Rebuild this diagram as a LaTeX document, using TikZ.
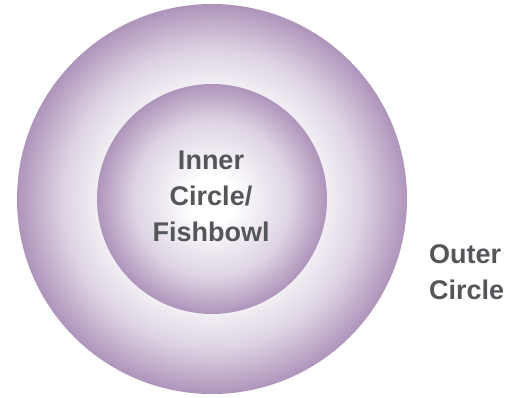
\documentclass[tikz,border=0pt]{standalone}
\usepackage{fontspec}
\setmainfont{Liberation Sans}
\definecolor{ringedge}{RGB}{174,148,186}
\definecolor{ringmid}{RGB}{222,212,228}
\definecolor{labelgray}{RGB}{84,86,90}
\pgfdeclareradialshading{fishbowl}{\pgfpoint{0bp}{0bp}}{color(0bp)=(white); color(5bp)=(white); color(17bp)=(ringmid); color(25bp)=(ringedge); color(50bp)=(ringedge)}
\pgfdeclareradialshading{outerring}{\pgfpoint{0bp}{0bp}}{color(0bp)=(white); color(12bp)=(white); color(19bp)=(ringmid); color(25bp)=(ringedge); color(50bp)=(ringedge)}
\tikzset{
  circlelabel/.style={text=labelgray, font=\bfseries\fontsize{27}{36}\selectfont, inner sep=0pt}
}
\begin{document}
\begin{tikzpicture}[x=1pt,y=-1pt]
\useasboundingbox (0,0) rectangle (527,398);

%Shape: Circle [outer]
\shade [shading=outerring] (212,199) circle (195);
%Shape: Circle [inner]
\shade [shading=fishbowl] (212,199) circle (115);

% Text Node
\node [circlelabel, align=center] (inner) at (211,196) {Inner\\Circle/\\Fishbowl};
% Text Node
\node [circlelabel, align=left, anchor=west] (outer) at (429,272) {Outer\\Circle};

\end{tikzpicture}
\end{document}
